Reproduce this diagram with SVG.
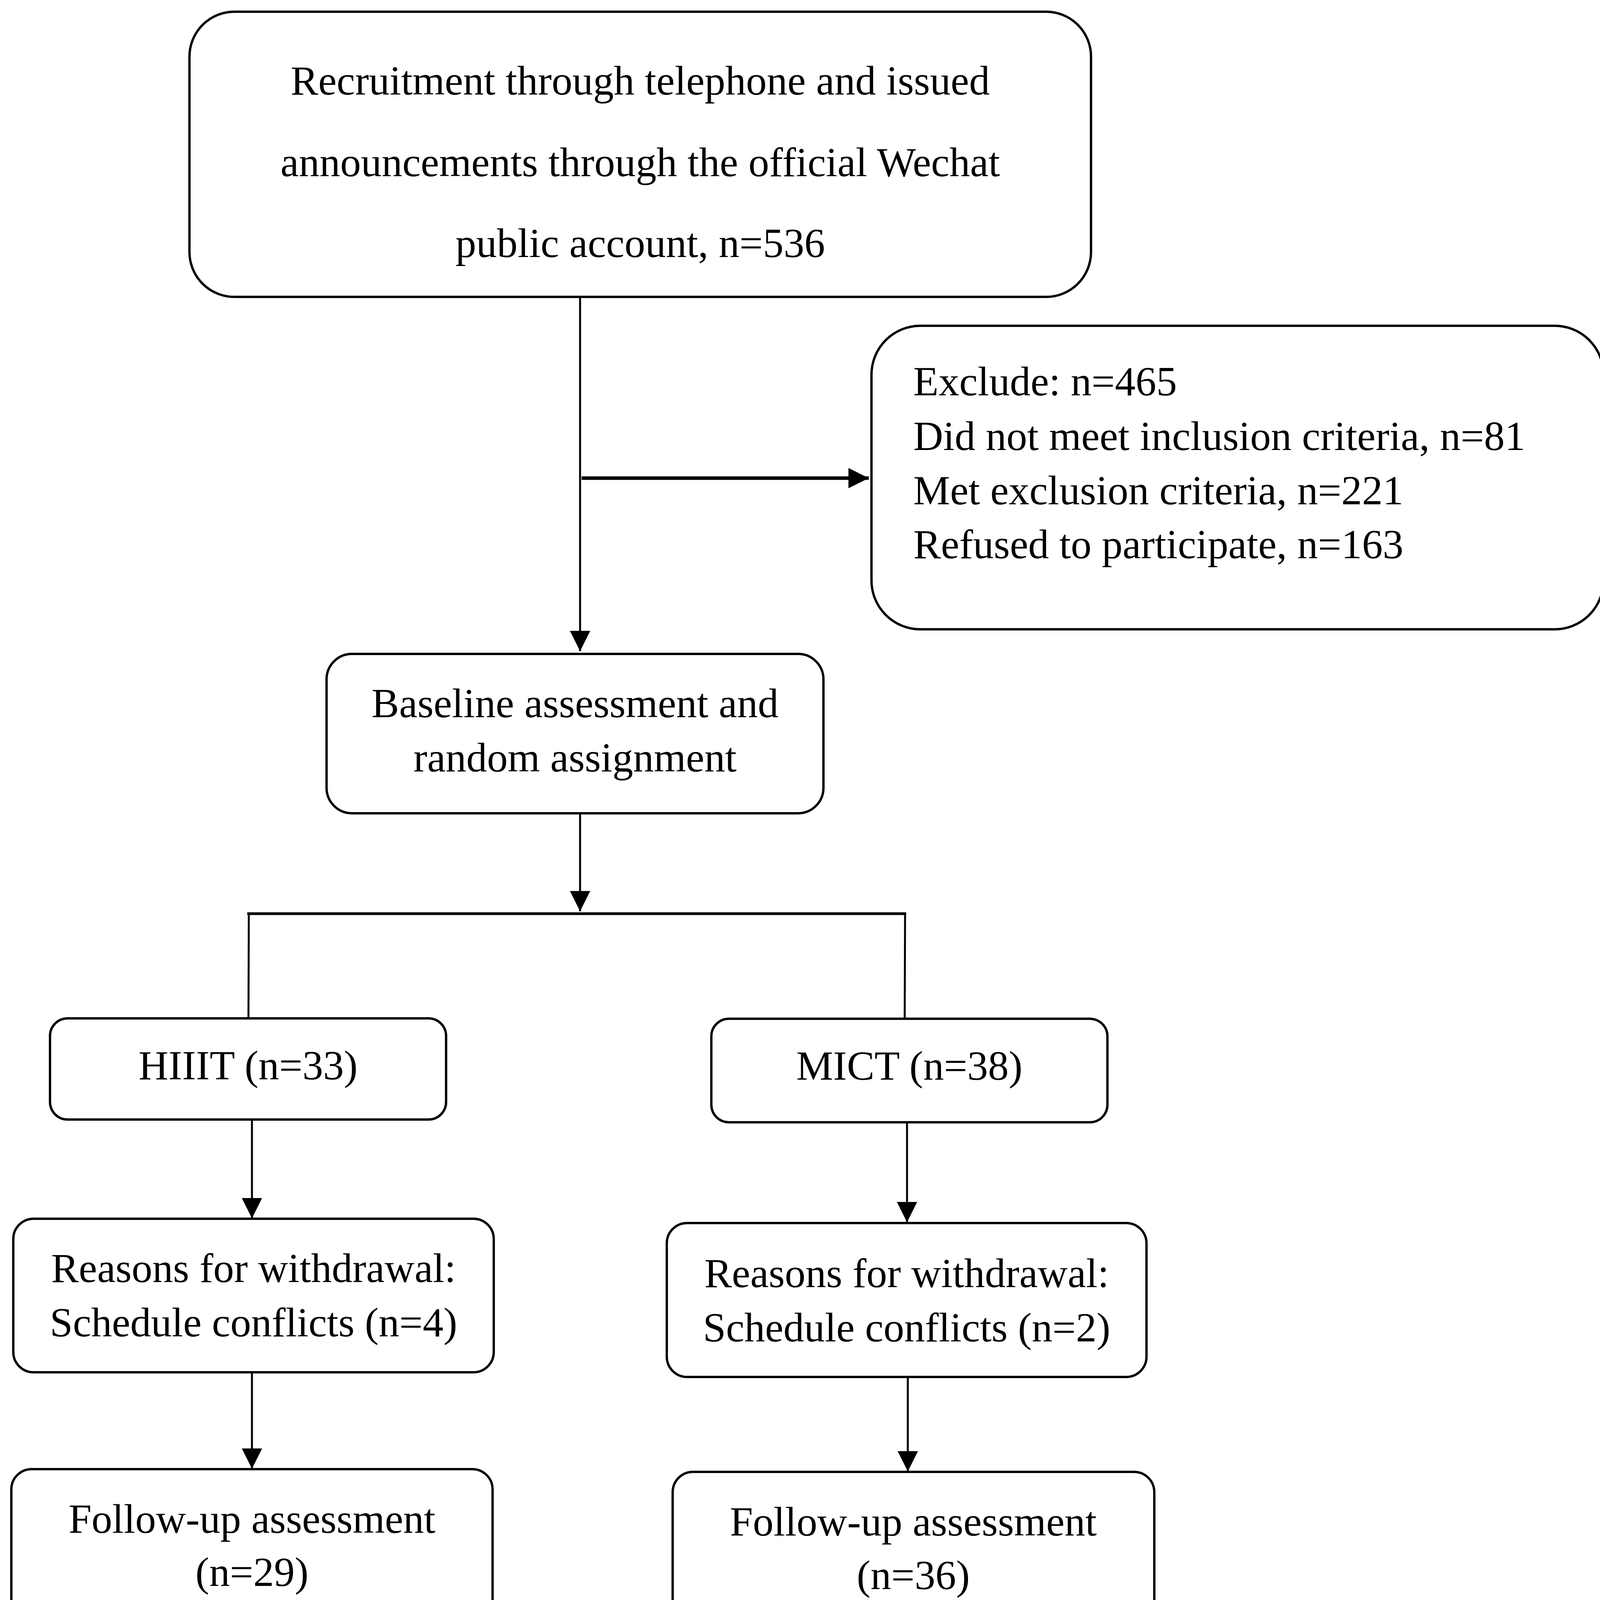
<svg xmlns="http://www.w3.org/2000/svg" width="4133" height="4189" viewBox="0 0 4133 4189">
<style>
.box{fill:#fff;stroke:#000;stroke-width:6}
.t{font-family:"Liberation Serif","Times New Roman",serif;font-size:106px;fill:#000}
.c{text-anchor:middle}
.ln{stroke:#000;stroke-width:5;fill:none}
</style>
<defs>
<marker id="ah" markerUnits="userSpaceOnUse" markerWidth="52" markerHeight="52" refX="52" refY="26" orient="auto" viewBox="0 0 52 52">
<path d="M0,0 L52,26 L0,52 z" fill="#000"/>
</marker>
</defs>
<rect width="4133" height="4189" fill="#fff"/>
<g id="connectors">
<line class="ln" x1="1485" y1="760" x2="1485" y2="1667" marker-end="url(#ah)"/>
<line class="ln" x1="1489" y1="1224" x2="2224" y2="1224" style="stroke-width:9" marker-end="url(#ah)"/>
<line class="ln" x1="1485" y1="2082" x2="1485" y2="2333" marker-end="url(#ah)"/>
<line class="ln" x1="633" y1="2339" x2="2320" y2="2339" style="stroke-width:7"/>
<line class="ln" x1="637" y1="2339" x2="636" y2="2606"/>
<line class="ln" x1="2317" y1="2339" x2="2316" y2="2607"/>
<line class="ln" x1="645" y1="2866" x2="645" y2="3119" marker-end="url(#ah)"/>
<line class="ln" x1="2322" y1="2873" x2="2322" y2="3129" marker-end="url(#ah)"/>
<line class="ln" x1="645" y1="3513" x2="645" y2="3760" marker-end="url(#ah)"/>
<line class="ln" x1="2324" y1="3525" x2="2324" y2="3767" marker-end="url(#ah)"/>
</g>
<g id="recruit">
<rect class="box" x="485" y="30" width="2308" height="730" rx="115" ry="115"/>
<text class="t c" x="1639" y="242">Recruitment through telephone and issued</text>
<text class="t c" x="1639" y="451">announcements through the official Wechat</text>
<text class="t c" x="1639" y="658">public account, n=536</text>
</g>
<g id="exclude">
<rect class="box" x="2231" y="834" width="1874" height="777" rx="125" ry="125"/>
<text class="t" x="2338" y="1012">Exclude: n=465</text>
<text class="t" x="2338" y="1152">Did not meet inclusion criteria, n=81</text>
<text class="t" x="2338" y="1291">Met exclusion criteria, n=221</text>
<text class="t" x="2338" y="1429">Refused to participate, n=163</text>
</g>
<g id="baseline">
<rect class="box" x="836" y="1674" width="1272" height="408" rx="65" ry="65"/>
<text class="t c" x="1472" y="1836">Baseline assessment and</text>
<text class="t c" x="1472" y="1975">random assignment</text>
</g>
<g id="hiit">
<rect class="box" x="128" y="2607" width="1014" height="259" rx="45" ry="45"/>
<text class="t c" x="635" y="2763">HIIIT (n=33)</text>
</g>
<g id="mict">
<rect class="box" x="1821" y="2608" width="1014" height="265" rx="45" ry="45"/>
<text class="t c" x="2328" y="2764">MICT (n=38)</text>
</g>
<g id="withdraw-hiit">
<rect class="box" x="34" y="3120" width="1230" height="393" rx="52" ry="52"/>
<text class="t c" x="649" y="3282">Reasons for withdrawal:</text>
<text class="t c" x="649" y="3421">Schedule conflicts (n=4)</text>
</g>
<g id="withdraw-mict">
<rect class="box" x="1707" y="3131" width="1228" height="394" rx="52" ry="52"/>
<text class="t c" x="2321" y="3295">Reasons for withdrawal:</text>
<text class="t c" x="2321" y="3434">Schedule conflicts (n=2)</text>
</g>
<g id="follow-hiit">
<rect class="box" x="29" y="3761" width="1232" height="394" rx="52" ry="52"/>
<text class="t c" x="645" y="3924">Follow-up assessment</text>
<text class="t c" x="645" y="4060">(n=29)</text>
</g>
<g id="follow-mict">
<rect class="box" x="1722" y="3768" width="1233" height="393" rx="52" ry="52"/>
<text class="t c" x="2338" y="3931">Follow-up assessment</text>
<text class="t c" x="2338" y="4068">(n=36)</text>
</g>
</svg>
